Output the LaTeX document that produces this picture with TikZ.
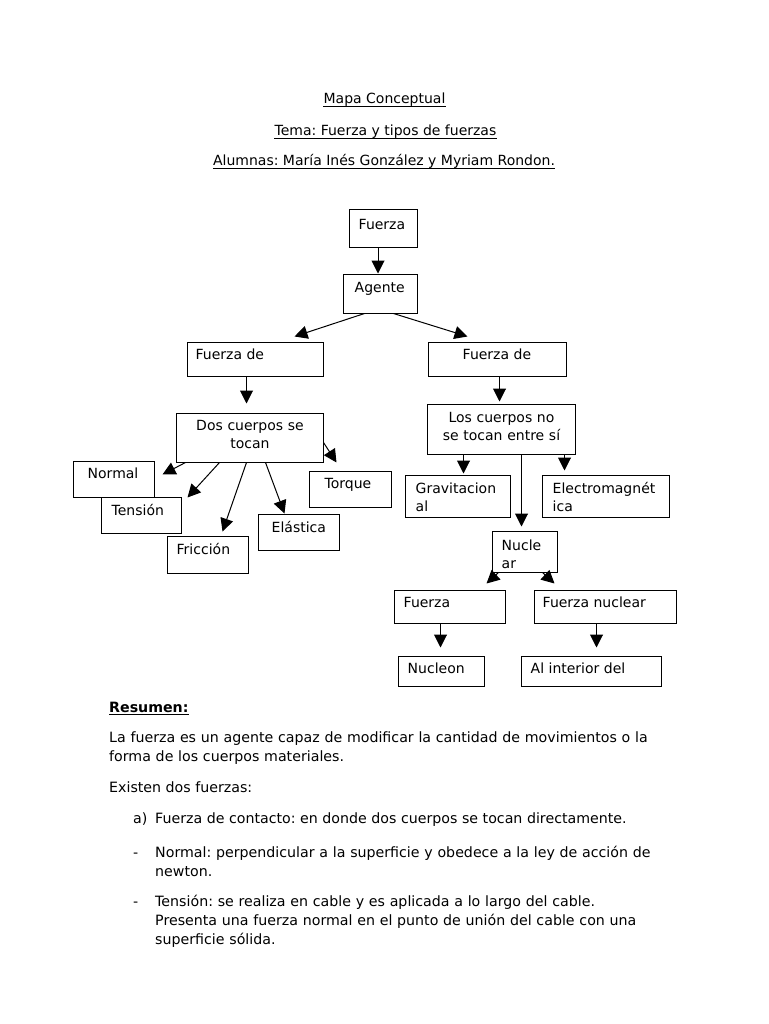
\documentclass[tikz,border=0pt]{standalone}
\usepackage{fontspec}
\setmainfont{DejaVu Sans}
\usetikzlibrary{arrows.meta, fit}
\frenchspacing

\begin{document}
\begin{tikzpicture}[x=1pt, y=-1pt,
	caja/.style={draw, line width=1pt, inner sep=0pt},
	texto/.style={inner sep=0pt, anchor=base west, font=\fontsize{14}{18}\selectfont},
	titulo/.style={inner sep=0pt, anchor=base, font=\fontsize{14}{18}\selectfont},
	linea/.style={inner sep=0pt, anchor=base west, font=\fontsize{14.2}{19.3}\selectfont},
	parrafo/.style={linea, text width=620pt, align=left},
	flecha/.style={line width=1pt, -{Triangle[length=13pt, width=13pt]}}]
			\useasboundingbox[fill=white] (0,0) rectangle (768,1024);
			
			%titulo
			\node[titulo] (mapa) at (384.5,104) {Mapa Conceptual};
			\node[titulo] (tema) at (385.5,136) {Tema: Fuerza y tipos de fuerzas};
			\node[titulo] (alumnas) at (384,166) {Alumnas: María Inés González y Myriam Rondon.};
			\draw[line width=0.8pt] ([yshift=-2.5pt]mapa.base west) -- ([yshift=-2.5pt]mapa.base east);
			\draw[line width=0.8pt] ([yshift=-2.5pt]tema.base west) -- ([yshift=-2.5pt]tema.base east);
			\draw[line width=0.8pt] ([yshift=-2.5pt]alumnas.base west) -- ([yshift=-2.5pt]alumnas.base east);
			
			%cajas
			\node[caja, fit={(349,210) (417,247)}] (fuerza) {};
			\node[caja, fit={(343,274) (417,313)}] (agente) {};
			\node[caja, fit={(187,342) (323,376)}] (fizq) {};
			\node[caja, fit={(428,342) (566,376)}] (fder) {};
			\node[caja, fit={(176,413) (323,462)}] (dos) {};
			\node[caja, fit={(427,404) (575,454)}] (los) {};
			\node[caja, fit={(73,461) (154,497)}] (normal) {};
			\node[caja, fit={(101,497) (181,533)}] (tension) {};
			\node[caja, fit={(167,536) (248,573)}] (friccion) {};
			\node[caja, fit={(258,514) (339,550)}] (elastica) {};
			\node[caja, fit={(309,471) (391,507)}] (torque) {};
			\node[caja, fit={(405,475) (510,517)}] (grav) {};
			\node[caja, fit={(542,475) (669,517)}] (electro) {};
			\node[caja, fit={(492,531) (557,572)}] (nuclear) {};
			\node[caja, fit={(394,590) (505,623)}] (ffuerte) {};
			\node[caja, fit={(534,590) (676,623)}] (fdebil) {};
			\node[caja, fit={(398,656) (484,686)}] (nucleon) {};
			\node[caja, fit={(521,656) (661,686)}] (interior) {};
			
			%textos de las cajas
			\node[texto] (tfuerza) at ([shift={(10,20)}]fuerza.north west) {Fuerza};
			\node[texto] (tagente) at ([shift={(12,19)}]agente.north west) {Agente};
			\node[texto] (tfizq) at ([shift={(9,18)}]fizq.north west) {Fuerza de};
			\node[texto] (tfder) at ([shift={(35,18)}]fder.north west) {Fuerza de};
			\node[texto, anchor=base, text width=140pt, align=center] (tdos) at ([shift={(0.5,18)}]dos.north) {Dos cuerpos se\\tocan};
			\node[texto, anchor=base, text width=140pt, align=center] (tlos) at ([shift={(0.5,19)}]los.north) {Los cuerpos no\\se tocan entre sí};
			\node[texto] (tnormal) at ([shift={(15,18)}]normal.north west) {Normal};
			\node[texto] (ttension) at ([shift={(11,19)}]tension.north west) {Tensión};
			\node[texto] (tfriccion) at ([shift={(10,19)}]friccion.north west) {Fricción};
			\node[texto] (telastica) at ([shift={(14,19)}]elastica.north west) {Elástica};
			\node[texto] (ttorque) at ([shift={(16,18)}]torque.north west) {Torque};
			\node[texto, text width=100pt, align=left] (tgrav) at ([shift={(11,19)}]grav.north west) {Gravitacion\\al};
			\node[texto, text width=120pt, align=left] (telectro) at ([shift={(11,19)}]electro.north west) {Electromagnét\\ica};
			\node[texto, text width=60pt, align=left] (tnuclear) at ([shift={(10,20)}]nuclear.north west) {Nucle\\ar};
			\node[texto] (tffuerte) at ([shift={(10,18)}]ffuerte.north west) {Fuerza};
			\node[texto] (tfdebil) at ([shift={(9,18)}]fdebil.north west) {Fuerza nuclear};
			\node[texto] (tnucleon) at ([shift={(10,18)}]nucleon.north west) {Nucleon};
			\node[texto] (tinterior) at ([shift={(10,18)}]interior.north west) {Al interior del};
			
			%flechas
			\draw[flecha] ([xshift=-5pt]fuerza.south) -- ([xshift=-2pt]agente.north);
			\draw[flecha] ([xshift=22pt]agente.south west) -- ([xshift=108pt, yshift=5pt]fizq.north west);
			\draw[flecha] ([xshift=51pt]agente.south west) -- ([xshift=40pt, yshift=5pt]fder.north west);
			\draw[flecha] ([xshift=60pt]fizq.south west) -- ([xshift=71pt, yshift=9pt]dos.north west);
			\draw[flecha] ([xshift=72pt]fder.south west) -- ([xshift=73pt, yshift=2pt]los.north west);
			
			\draw[flecha] ([xshift=10pt]dos.south west) -- ([xshift=8pt, yshift=-14pt]normal.north east);
			\draw[flecha] ([xshift=44pt]dos.south west) -- ([xshift=6pt, yshift=-1pt]tension.north east);
			\draw[flecha] ([xshift=71pt]dos.south west) -- ([xshift=56pt, yshift=4pt]friccion.north west);
			\draw[flecha] ([xshift=90pt]dos.south west) -- ([xshift=27pt]elastica.north west);
			\draw[flecha] ([yshift=-30pt]dos.north east) -- ([xshift=28pt, yshift=8pt]torque.north west);
			
			\draw[flecha] ([xshift=37pt]los.south west) -- ([xshift=59pt, yshift=1pt]grav.north west);
			\draw[flecha] ([xshift=138pt]los.south west) -- ([xshift=23pt, yshift=4pt]electro.north west);
			\draw[flecha] ([xshift=95pt]los.south west) -- ([xshift=30pt, yshift=4pt]nuclear.north west);
			
			\draw[flecha] ([xshift=7pt]nuclear.south west) -- ([xshift=93pt, yshift=6pt]ffuerte.north west);
			\draw[flecha] ([xshift=51pt]nuclear.south west) -- ([xshift=21pt, yshift=6pt]fdebil.north west);
			\draw[flecha] ([xshift=47pt]ffuerte.south west) -- ([xshift=43pt, yshift=8pt]nucleon.north west);
			\draw[flecha] ([xshift=63pt]fdebil.south west) -- ([xshift=76pt, yshift=8pt]interior.north west);
			
			%resumen
			\node[linea] (resumen) at (109,712) {\textbf{Resumen:}};
			\draw[line width=0.8pt] ([yshift=-2.5pt]resumen.base west) -- ([yshift=-2.5pt]resumen.base east);
			\node[parrafo] (p1) at (109,742) {La fuerza es un agente capaz de modificar la cantidad de movimientos o la\\forma de los cuerpos materiales.};
			\node[linea] (p2) at (109,792) {Existen dos fuerzas:};
			\node[linea] (ia) at (133,823) {a)};
			\node[linea] (pa) at (155,823) {Fuerza de contacto: en donde dos cuerpos se tocan directamente.};
			\node[linea] (ib) at (133,857) {-};
			\node[parrafo] (pb) at (155,857) {Normal: perpendicular a la superficie y obedece a la ley de acción de\\newton.};
			\node[linea] (ic) at (133,906) {-};
			\node[parrafo] (pc) at (155,906) {Tensión: se realiza en cable y es aplicada a lo largo del cable.\\Presenta una fuerza normal en el punto de unión del cable con una\\superficie sólida.};
		\end{tikzpicture}
\end{document}
